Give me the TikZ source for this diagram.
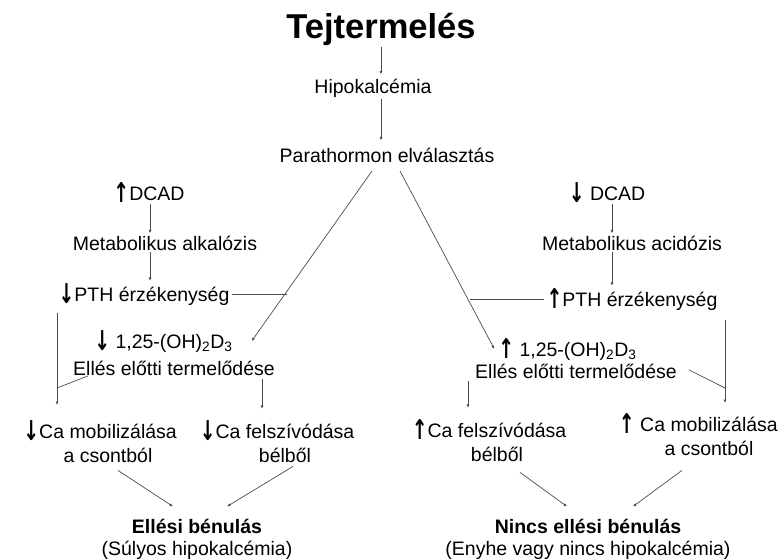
\documentclass[tikz,border=0pt]{standalone}
\usepackage{fontspec}
\usepackage{graphicx}
\setmainfont{Liberation Sans}
\newfontfamily\arrfont{DejaVu Sans}
\usetikzlibrary{calc}
\usetikzlibrary{arrows.meta}

\newcommand{\upar}{\raisebox{-2pt}{\scalebox{0.9}[1.3]{\arrfont\bfseries\fontsize{21}{24}\selectfont ↑}}}
\newcommand{\dnar}{\raisebox{-2pt}{\scalebox{0.9}[1.3]{\arrfont\bfseries\fontsize{21}{24}\selectfont ↓}}}

\begin{document}
\begin{tikzpicture}[x=1pt, y=-1pt,
    every node/.style={inner sep=2pt, font=\fontsize{19.5}{24}\selectfont},
    lbl/.style={anchor=base},
    con/.style={draw=black!70, line width=0.7pt},
    arr/.style={con, -{Latex[length=3.5pt,width=3pt]}}]
    \useasboundingbox (0,0) rectangle (780,560);

    % top chain
    \node[lbl, font=\fontsize{34.5}{40}\selectfont\bfseries] (tej) at (381,38) {Tejtermelés};
    \node[lbl] (hipo) at (373,93) {Hipokalcémia};
    \node[lbl] (parat) at (387,162) {Parathormon elválasztás};

    \draw[arr] (tej.south) -- ($(tej.south |- hipo.north)+(0,-2)$);
    \draw[arr] (hipo.south -| tej.south) -- ($(tej.south |- parat.north)+(0,-5)$);

    % left branch (two-line nodes sit on the baseline of their last line)
    \node[lbl] (dcadl) at (149,200) {\upar DCAD};
    \node[lbl] (alk) at (165,250) {Metabolikus alkalózis};
    \node[lbl] (pthl) at (144,301) {\dnar PTH érzékenység};
    \node[lbl] (vitl) at (174,348) {\llap{\dnar\ }1,25-(OH)\textsubscript{2}D\textsubscript{3}};
    \node[lbl] (prodl) at (174,375) {Ellés előtti termelődése};
    \node[lbl, align=center] (mobl) at (108,462) {\llap{\dnar}Ca mobilizálása\\a csontból};
    \node[lbl, align=center] (fell) at (285,462) {\llap{\dnar}Ca felszívódása\\bélből};
    \node[lbl, align=center, font=\fontsize{19.5}{22}\selectfont] (benul) at (197,555) {\textbf{Ellési bénulás}\\(Súlyos hipokalcémia)};

    % right branch
    \node[lbl] (dcadr) at (607,200) {\dnar\ DCAD};
    \node[lbl] (acid) at (632,250) {Metabolikus acidózis};
    \node[lbl] (pthr) at (632,306) {\upar PTH érzékenység};
    \node[lbl] (vitr) at (578,356) {\llap{\upar\ }1,25-(OH)\textsubscript{2}D\textsubscript{3}};
    \node[lbl] (prodr) at (576,378) {Ellés előtti termelődése};
    \node[lbl, align=center] (felr) at (497,461) {\llap{\upar}Ca felszívódása\\bélből};
    \node[lbl, align=center] (mobr) at (709,455) {\llap{\upar\ }Ca mobilizálása\\a csontból};
    \node[lbl, align=center, font=\fontsize{19.5}{22}\selectfont] (nincs) at (588,555) {\textbf{Nincs ellési bénulás}\\(Enyhe vagy nincs hipokalcémia)};

    % free ends of the connectors
    \coordinate (pa) at (372,171);
    \coordinate (pb) at (400,171);
    \coordinate (xl) at (287,295);
    \coordinate (xr) at (470,302);
    \coordinate (lv) at (57,313);
    \coordinate (lj) at (57,388);
    \coordinate (le) at (57,405);
    \coordinate (rv) at (725,320);
    \coordinate (rj) at (725,388);
    \coordinate (re) at (725,403);

    \draw[arr] (dcadl.south -| 150,0) -- (alk.north -| 150,0);
    \draw[arr] (alk.south -| 150,0) -- (pthl.north -| 150,0);
    \draw[arr] (dcadr.south -| 612,0) -- (acid.north -| 612,0);
    \draw[arr] (acid.south -| 612,0) -- (pthr.north -| 612,0);

    \draw[arr] (pa) -- ($(vitl.east)+(17,0)$);
    \draw[arr] (pb) -- ($(vitr.west)+(-23,0)$);
    \draw[con] (pthl.east) -- (pthl.east -| xl);
    \draw[con] (pthr.west) -- (pthr.west -| xr);

    \draw[arr] (lv) -- (le);
    \draw[con] ($(prodl.west)+(17,8)$) -- (lj);
    \draw[arr] (rv) -- (re);
    \draw[con] ($(prodr.east)+(10,-1)$) -- (rj);

    \draw[arr] ($(prodl.south)+(88,2)$) -- ($(fell.north)+(-23,-9)$);
    \draw[arr] ($(prodr.south)+(-108,1)$) -- ($(felr.north)+(-29,-9)$);

    \draw[arr] ($(mobl.south)+(10,6)$) -- ($(benul.north)+(-24,-10)$);
    \draw[arr] ($(fell.south)+(8,2)$) -- ($(benul.north)+(30,-10)$);
    \draw[arr] ($(felr.south)+(23,9)$) -- ($(nincs.north)+(-21,-10)$);
    \draw[arr] ($(mobr.south)+(-27,13)$) -- ($(nincs.north)+(45,-10)$);
\end{tikzpicture}
\end{document}
